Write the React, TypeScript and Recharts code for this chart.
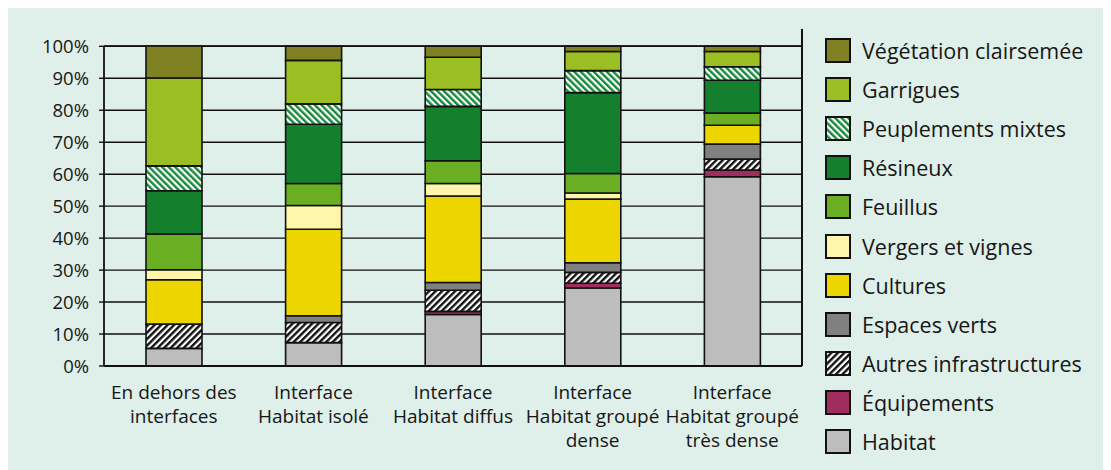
import React from 'react';
import { BarChart, Bar, XAxis, YAxis, CartesianGrid } from 'recharts';

// Occupation du sol par type d'interface (% de surface)
const categories = [
  'En dehors des interfaces',
  'Interface Habitat isolé',
  'Interface Habitat diffus',
  'Interface Habitat groupé dense',
  'Interface Habitat groupé très dense',
];
const categoryLines = [
  ['En dehors des', 'interfaces'],
  ['Interface', 'Habitat isolé'],
  ['Interface', 'Habitat diffus'],
  ['Interface', 'Habitat groupé', 'dense'],
  ['Interface', 'Habitat groupé', 'très dense'],
];

const habitat = [5.5, 7.3, 16.1, 24.4, 59.2];
const equipements = [0, 0, 1.0, 1.5, 2.1];
const autresInfra = [7.6, 6.3, 6.6, 3.4, 3.4];
const espacesVerts = [0, 2.1, 2.4, 3.0, 4.7];
const cultures = [13.9, 27.1, 27.1, 19.9, 5.9];
const vergers = [3.1, 7.4, 3.9, 1.9, 0];
const feuillus = [11.2, 6.9, 7.1, 6.1, 3.8];
const resineux = [13.5, 18.5, 17.0, 25.3, 10.3];
const peuplementsMixtes = [7.8, 6.4, 5.3, 6.9, 4.2];
const garrigues = [27.5, 13.6, 10.1, 6.0, 4.8];
const vegetationClairsemee = [10.0, 4.4, 3.4, 1.6, 1.6];

const yTicks = [0, 10, 20, 30, 40, 50, 60, 70, 80, 90, 100];

// stacking order, bottom to top
const series = [
  { key: 'habitat', name: 'Habitat', values: habitat, fill: '#bdbdbd' },
  { key: 'equipements', name: 'Équipements', values: equipements, fill: '#a02d5e' },
  { key: 'autres', name: 'Autres infrastructures', values: autresInfra, fill: 'url(#hatchBlack)' },
  { key: 'espaces', name: 'Espaces verts', values: espacesVerts, fill: '#808080' },
  { key: 'cultures', name: 'Cultures', values: cultures, fill: '#edd500' },
  { key: 'vergers', name: 'Vergers et vignes', values: vergers, fill: '#fff5ab' },
  { key: 'feuillus', name: 'Feuillus', values: feuillus, fill: '#6aae23' },
  { key: 'resineux', name: 'Résineux', values: resineux, fill: '#14802e' },
  { key: 'mixtes', name: 'Peuplements mixtes', values: peuplementsMixtes, fill: 'url(#hatchGreen)' },
  { key: 'garrigues', name: 'Garrigues', values: garrigues, fill: '#9bbf22' },
  { key: 'vegetation', name: 'Végétation clairsemée', values: vegetationClairsemee, fill: '#7f8021' },
];

const data = categories.map((name, i) => {
  const row: Record<string, any> = { name, idx: i };
  series.forEach((s) => {
    row[s.key] = s.values[i];
  });
  return row;
});

const FONT = '"Open Sans", "Noto Sans", sans-serif';
const TEXT = '#161616';

// multi-line category label, one <text> per line
const CategoryTick = (props: any) => {
  const { x, y, payload } = props;
  const lines = categoryLines[payload.index] || [payload.value];
  return (
    <g>
      {lines.map((l, i) => (
        <text
          key={i}
          x={x}
          y={y + 25 + i * 24}
          textAnchor="middle"
          fill={TEXT}
          fontSize={19}
          fontFamily={FONT}
        >
          {l}
        </text>
      ))}
    </g>
  );
};

const Swatch = ({ fill }: { fill: string }) => (
  <svg width={26} height={25} style={{ display: 'block' }}>
    <rect x={1} y={1} width={24} height={23} fill={fill} stroke="#111" strokeWidth={2} />
  </svg>
);

export default function App() {
  const legendItems = [...series].reverse();
  return (
    <div
      style={{
        position: 'relative',
        left: -1,
        top: -1,
        width: 1104,
        height: 463,
        boxSizing: 'border-box',
        background: '#dfefe9',
        borderTop: '1px solid #8a8a8a',
        borderLeft: '1px solid #8a8a8a',
        overflow: 'hidden',
      }}
    >
      {/* hatch patterns shared by bars and legend */}
      <svg width={0} height={0} style={{ position: 'absolute' }}>
        <defs>
          <pattern id="hatchGreen" patternUnits="userSpaceOnUse" width={4.6} height={4.6} patternTransform="rotate(-45)">
            <rect x={0} y={0} width={4.6} height={4.6} fill="#ffffff" />
            <rect x={0} y={0} width={2.4} height={4.6} fill="#15893a" />
          </pattern>
          <pattern id="hatchBlack" patternUnits="userSpaceOnUse" width={4.6} height={4.6} patternTransform="rotate(45)">
            <rect x={0} y={0} width={4.6} height={4.6} fill="#ffffff" />
            <rect x={0} y={0} width={2.4} height={4.6} fill="#111111" />
          </pattern>
        </defs>
      </svg>

      <BarChart
        width={1103}
        height={462}
        data={data}
        margin={{ top: 38, right: 309, bottom: 24, left: 36 }}
        barSize={56}
      >
        <CartesianGrid horizontal vertical={false} stroke="#111" strokeWidth={1.4} strokeOpacity={1} />
        <XAxis
          dataKey="name"
          axisLine={{ stroke: '#111', strokeWidth: 1.8 }}
          tickLine={false}
          height={80}
          interval={0}
          tick={<CategoryTick />}
        />
        <YAxis
          domain={[0, 100]}
          ticks={yTicks}
          width={60}
          tickFormatter={(v: number) => `${v}%`}
          axisLine={{ stroke: '#111', strokeWidth: 1.8 }}
          tickLine={{ stroke: '#111', strokeWidth: 1.4 }}
          tickSize={5}
          tickMargin={10}
          tick={{ fill: TEXT, fontSize: 18.5, fontFamily: FONT }}
        />
        {series.map((s) => (
          <Bar
            key={s.key}
            dataKey={s.key}
            name={s.name}
            stackId="a"
            fill={s.fill}
            stroke="#111"
            strokeWidth={1.6}
            isAnimationActive={false}
          />
        ))}
      </BarChart>

      {/* divider between plot and legend */}
      <div
        style={{
          position: 'absolute',
          left: 793,
          top: 21,
          width: 1.8,
          height: 337,
          background: '#111',
        }}
      />

      <div style={{ position: 'absolute', left: 817, top: 23, fontFamily: FONT, fontSize: 21.5, color: TEXT }}>
        {legendItems.map((s) => (
          <div key={s.key} style={{ display: 'flex', alignItems: 'center', height: 39.1 }}>
            <Swatch fill={s.fill} />
            <span style={{ marginLeft: 11, whiteSpace: 'nowrap' }}>{s.name}</span>
          </div>
        ))}
      </div>
    </div>
  );
}
